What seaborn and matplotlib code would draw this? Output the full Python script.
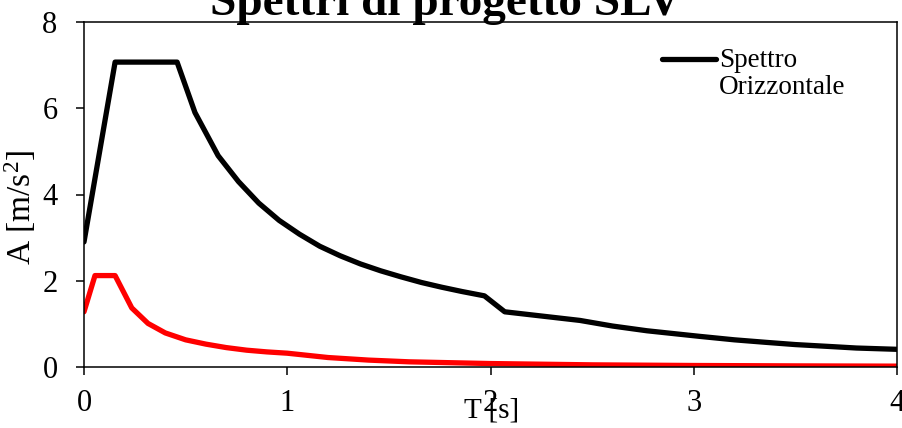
import matplotlib
matplotlib.use("Agg")
import matplotlib.pyplot as plt
import seaborn as sns
import pandas as pd
import numpy as np

# Horizontal spectrum (black)
T_h = [0.0, 0.153, 0.458, 0.546, 0.66, 0.76, 0.86, 0.96, 1.06, 1.16, 1.26, 1.36,
       1.46, 1.56, 1.66, 1.76, 1.86, 1.97, 2.07, 2.44, 2.6, 2.77, 3.03, 3.2,
       3.36, 3.5, 3.69, 3.8, 4.0]
A_h = [2.9, 7.07, 7.07, 5.9, 4.9, 4.3, 3.8, 3.4, 3.08, 2.8, 2.58, 2.39,
       2.23, 2.09, 1.96, 1.85, 1.75, 1.65, 1.28, 1.08, 0.95, 0.84, 0.71, 0.63,
       0.57, 0.52, 0.47, 0.44, 0.41]

# Vertical spectrum (red)
T_v = [0.0, 0.054, 0.153, 0.235, 0.315, 0.4, 0.5, 0.6, 0.7, 0.8, 0.9, 1.0,
       1.2, 1.4, 1.6, 1.8, 2.0, 2.5, 3.0, 3.5, 4.0]
A_v = [1.28, 2.12, 2.12, 1.37, 1.01, 0.79, 0.63, 0.53, 0.45, 0.39, 0.35, 0.32,
       0.22, 0.16, 0.12, 0.10, 0.08, 0.05, 0.035, 0.026, 0.02]

x_ticks = [0, 1, 2, 3, 4]
y_ticks = [0, 2, 4, 6, 8]
title = "Spettri di progetto SLV"
legend_label = "Spettro\nOrizzontale"

sns.set_theme(style="white")
plt.rcParams['font.family'] = ['Liberation Serif', 'DejaVu Serif']
plt.rcParams['mathtext.fontset'] = 'custom'
plt.rcParams['mathtext.rm'] = 'Liberation Serif'
plt.rcParams['mathtext.it'] = 'Liberation Serif:italic'
plt.rcParams['text.color'] = 'black'
plt.rcParams['axes.labelcolor'] = 'black'
plt.rcParams['xtick.color'] = 'black'
plt.rcParams['ytick.color'] = 'black'

df_h = pd.DataFrame({"T": T_h, "A": A_h})
df_v = pd.DataFrame({"T": T_v, "A": A_v})

fig = plt.figure(figsize=(9.02, 4.28), dpi=100)
ax = fig.add_axes([84/902, 1-367/428, (897-84)/902, (367-22)/428])

sns.lineplot(data=df_h, x="T", y="A", ax=ax, color="black", linewidth=3.8,
             sort=False, label=legend_label)
sns.lineplot(data=df_v, x="T", y="A", ax=ax, color="#ff0000", linewidth=3.8,
             sort=False, label="_nolegend_")

ax.set_xlim(0, 4)
ax.set_ylim(0, 8)
ax.set_xticks(x_ticks)
ax.set_yticks(y_ticks)
ax.set_xticklabels([str(v) for v in x_ticks])
ax.set_yticklabels([str(v) for v in y_ticks])
ax.tick_params(axis='both', direction='out', length=6, width=1.1,
               labelsize=22, color='black', labelcolor='black')
ax.tick_params(axis='x', pad=10)
ax.tick_params(axis='y', pad=13)
ax.xaxis.set_ticks_position('bottom')
ax.yaxis.set_ticks_position('left')
for s in ax.spines.values():
    s.set_visible(True)
    s.set_color('black')
    s.set_linewidth(1.1)

ax.set_xlabel("T [s]", fontsize=21)
ax.xaxis.set_label_coords((492-84)/813, (367-398)/345)
ax.set_ylabel("A [m/s$^2$]", fontsize=24)
ax.yaxis.set_label_coords((38-84)/813, (367-207)/345)

leg = ax.legend(loc='upper left', bbox_to_anchor=(0.711, 0.925), frameon=False,
                fontsize=19.5, handlelength=2.0, handletextpad=0.1,
                borderaxespad=0, borderpad=0)
for t in leg.get_texts():
    t.set_linespacing(1.1)
hl = leg.get_lines()[0]
hl.set_ydata(np.asarray(hl.get_ydata(), dtype=float) + 10.5)

fig.text(0.494, 1-15/428, title, ha='center', va='baseline', fontsize=34,
         fontweight='bold')

fig.savefig("out.png", dpi=100)
